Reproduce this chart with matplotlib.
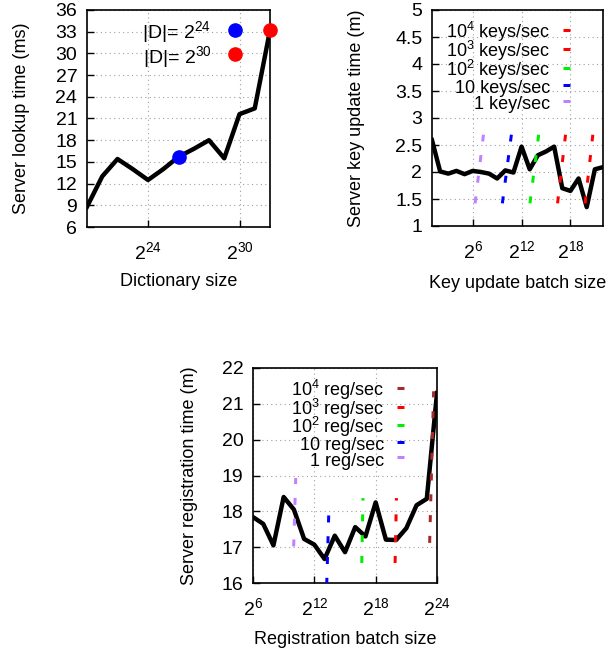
import matplotlib
matplotlib.use('Agg')
import matplotlib.pyplot as plt

plt.rcParams['font.family'] = ['Liberation Sans', 'DejaVu Sans']
plt.rcParams['mathtext.fontset'] = 'custom'
plt.rcParams['mathtext.rm'] = 'Liberation Sans'
plt.rcParams['mathtext.it'] = 'Liberation Sans:italic'
plt.rcParams['mathtext.bf'] = 'Liberation Sans:bold'
plt.rcParams['font.size'] = 13

# --- lookup time vs dictionary size (x is log2) ---
dict_log = [20, 21, 22, 23, 24, 25, 26, 27, 28, 29, 30, 31, 32]
lookup_ms = [8.8, 13.0, 15.4, 14.0, 12.5, 14.0, 15.7, 16.8, 18.0, 15.5, 21.6, 22.4, 33.2]
d24_x, d24_y = [26], [15.7]
d30_x, d30_y = [32], [33.2]

# --- key update time vs batch size (x is log2) ---
key_log = list(range(1, 23))
key_min = [2.59, 2.01, 1.97, 2.02, 1.96, 2.02, 2.0, 1.97, 1.88, 2.03, 1.99,
           2.47, 2.05, 2.31, 2.38, 2.47, 1.70, 1.65, 1.88, 1.35, 2.05, 2.09]
key_labels = ['10$^{4}$ keys/sec', '10$^{3}$ keys/sec', '10$^{2}$ keys/sec',
              '10 keys/sec', '1 key/sec']
key_x0 = [19.8, 16.42, 13.03, 9.64, 6.29]
key_x1 = [20.75, 17.4, 14.1, 10.75, 7.32]
key_y0 = [1.42, 1.42, 1.42, 1.42, 1.42]
key_y1 = [2.69, 2.69, 2.69, 2.69, 2.69]
key_colors = ['#ff0000', '#ff0000', '#00ee00', '#0000ff', '#c080ff']

# --- registration time vs batch size (x is log2) ---
reg_log = list(range(6, 25))
reg_min = [17.84, 17.65, 17.05, 18.4, 18.05, 17.23, 17.07, 16.67, 17.32, 16.86,
           17.56, 17.3, 18.25, 17.21, 17.2, 17.53, 18.17, 18.35, 21.3]
reg_labels = ['10$^{4}$ reg/sec', '10$^{3}$ reg/sec', '10$^{2}$ reg/sec',
              '10 reg/sec', '1 reg/sec']
reg_x0 = [23.28, 19.9, 16.64, 13.21, 9.98]
reg_x1 = [23.67, 20.03, 16.76, 13.41, 10.18]
reg_y0 = [17.12, 16.56, 16.56, 15.95, 17.02]
reg_y1 = [21.35, 18.37, 18.37, 17.93, 18.93]
reg_colors = ['#a52a2a', '#ff0000', '#00ee00', '#0000ff', '#c080ff']

W, H = 616, 649
fig = plt.figure(figsize=(W / 100, H / 100), dpi=100)


def box(l, t, r, b):
    return [l / W, 1 - b / H, (r - l) / W, (b - t) / H]


def style(ax, xticks, xlabels, yticks):
    ax.set_xticks(xticks)
    ax.set_xticklabels(xlabels)
    ax.set_yticks(yticks)
    ax.tick_params(direction='in', length=5, width=1, labelsize=14,
                   top=False, right=False)
    ax.tick_params(axis='y', pad=7)
    ax.tick_params(axis='x', pad=10)
    ax.grid(True, color='#a0a0a0', linestyle=(0, (1, 3)), linewidth=0.8)
    for s in ax.spines.values():
        s.set_linewidth(1.2)


dash = (0, (2.33, 4.6))
leg_kw = dict(loc='upper right', frameon=False, markerfirst=False,
              borderpad=0, borderaxespad=0)

# plot 1
ax1 = fig.add_axes(box(87, 10, 270, 227))
ax1.plot(dict_log, lookup_ms, color='black', lw=3.2, zorder=3)
ax1.plot(d24_x, d24_y, 'o', color='#0000ff', ms=9.5, label='|D|= $2^{24}$',
         zorder=4, clip_on=False)
ax1.plot(d30_x, d30_y, 'o', color='#ff0000', ms=9.5, label='|D|= $2^{30}$',
         zorder=4, clip_on=False)
ax1.set_xlim(20, 32)
ax1.set_ylim(6, 36)
style(ax1, [24, 30], ['$2^{24}$', '$2^{30}$'], range(6, 37, 3))
ax1.set_xlabel('Dictionary size')
ax1.set_ylabel('Server lookup time (ms)')
ax1.xaxis.set_label_coords(0.5, -0.212)
ax1.yaxis.set_label_coords(-0.311, 0.5)
ax1.legend(bbox_to_anchor=(0.852, 0.956), handlelength=0.8, handleheight=1.4,
           handletextpad=0.83, labelspacing=-0.07, fontsize=14, **leg_kw)

# plot 2
ax2 = fig.add_axes(box(432, 10, 603, 226))
ax2.plot(key_log, key_min, color='black', lw=3.2, zorder=3)
for i in range(len(key_labels)):
    ax2.plot([key_x0[i], key_x1[i]], [key_y0[i], key_y1[i]], color=key_colors[i],
             lw=2.16, linestyle=dash, label=key_labels[i], zorder=4)
ax2.set_xlim(1, 22)
ax2.set_ylim(1, 5)
style(ax2, [6, 12, 18], ['$2^{6}$', '$2^{12}$', '$2^{18}$'],
      [1, 1.5, 2, 2.5, 3, 3.5, 4, 4.5, 5])
ax2.set_yticklabels(['1', '1.5', '2', '2.5', '3', '3.5', '4', '4.5', '5'])
ax2.set_xlabel('Key update batch size')
ax2.set_ylabel('Server key update time (m)')
ax2.xaxis.set_label_coords(0.5, -0.227)
ax2.yaxis.set_label_coords(-0.392, 0.5)
ax2.legend(bbox_to_anchor=(0.807, 0.952), handlelength=0.39, handleheight=1.4,
           handletextpad=0.72, labelspacing=-0.29, fontsize=13, **leg_kw)

# plot 3
ax3 = fig.add_axes(box(253, 368, 437, 583))
ax3.plot(reg_log, reg_min, color='black', lw=3.2, zorder=3)
for i in range(len(reg_labels)):
    ax3.plot([reg_x0[i], reg_x1[i]], [reg_y0[i], reg_y1[i]], color=reg_colors[i],
             lw=2.16, linestyle=dash, label=reg_labels[i], zorder=4)
ax3.set_xlim(6, 24)
ax3.set_ylim(16, 22)
style(ax3, [6, 12, 18, 24], ['$2^{6}$', '$2^{12}$', '$2^{18}$', '$2^{24}$'],
      range(16, 23))
ax3.set_xlabel('Registration batch size')
ax3.set_ylabel('Server registration time (m)')
ax3.xaxis.set_label_coords(0.5, -0.223)
ax3.yaxis.set_label_coords(-0.299, 0.5)
ax3.legend(bbox_to_anchor=(0.821, 0.952), handlelength=0.39, handleheight=1.4,
           handletextpad=0.72, labelspacing=-0.31, fontsize=13, **leg_kw)

fig.savefig('out.png', dpi=100)
